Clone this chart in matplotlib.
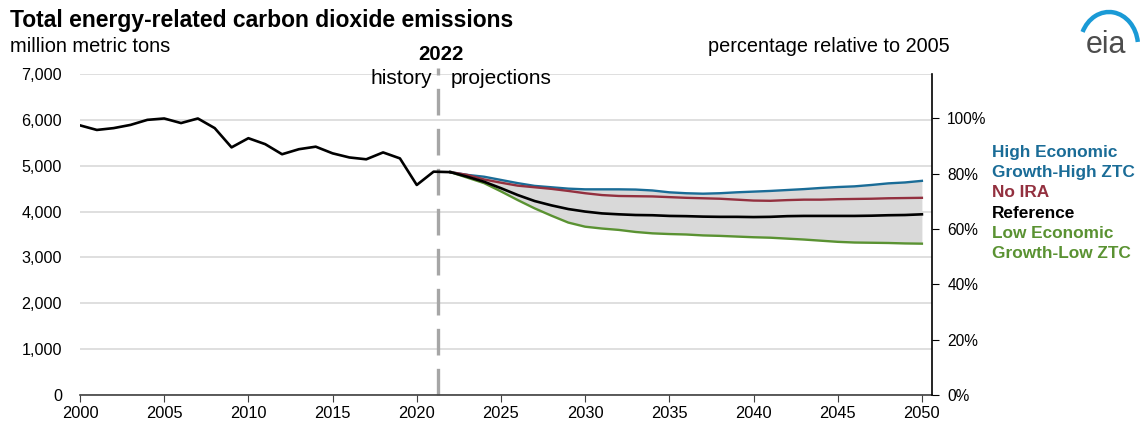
import numpy as np
import matplotlib.pyplot as plt
from matplotlib.patches import Arc

plt.rcParams["font.family"] = ["Liberation Sans", "DejaVu Sans"]

# history, million metric tons
hist_years = list(range(2000, 2023))
hist_values = [5880, 5780, 5820, 5890, 6000, 6030, 5930, 6030, 5820, 5400,
               5600, 5470, 5250, 5360, 5415, 5270, 5180, 5140, 5290, 5160,
               4580, 4870, 4860]

# projections 2022-2050
proj_years = list(range(2022, 2051))
high_growth = [4860, 4800, 4760, 4690, 4620, 4560, 4530, 4500, 4485, 4485,
               4485, 4480, 4460, 4420, 4400, 4390, 4400, 4420, 4435, 4450,
               4470, 4490, 4515, 4535, 4550, 4580, 4615, 4635, 4670]
no_ira = [4860, 4800, 4700, 4630, 4565, 4530, 4495, 4450, 4400, 4360,
          4340, 4335, 4330, 4315, 4300, 4290, 4280, 4260, 4240, 4235,
          4250, 4260, 4260, 4270, 4275, 4280, 4290, 4295, 4300]
reference = [4860, 4760, 4650, 4510, 4360, 4230, 4135, 4055, 4000, 3960,
             3940, 3925, 3920, 3905, 3900, 3890, 3885, 3885, 3880, 3885,
             3900, 3905, 3905, 3905, 3905, 3910, 3920, 3925, 3940]
low_growth = [4860, 4740, 4620, 4440, 4250, 4070, 3910, 3760, 3670, 3630,
              3600, 3555, 3525, 3510, 3500, 3480, 3470, 3455, 3440, 3430,
              3410, 3390, 3365, 3340, 3325, 3320, 3315, 3305, 3300]

x_ticks = list(range(2000, 2051, 5))
y_ticks = list(range(0, 7001, 1000))
pct_ticks = [0, 20, 40, 60, 80, 100]
divider_year = 2021.25

BLUE = "#1a6c97"
RED = "#93303f"
GREEN = "#5a9232"
BLACK = "#000000"

fig = plt.figure(figsize=(11.4, 4.25), dpi=100)
ax = fig.add_axes([80 / 1140, 30 / 425, 852 / 1140, 321 / 425])

ax.fill_between(proj_years, low_growth, high_growth, color="#d9d9d9", lw=0, zorder=1)
ax.plot(proj_years, high_growth, color=BLUE, lw=1.7, zorder=3)
ax.plot(proj_years, no_ira, color=RED, lw=1.7, zorder=3)
ax.plot(proj_years, low_growth, color=GREEN, lw=1.7, zorder=3)
ax.plot(proj_years, reference, color=BLACK, lw=1.9, zorder=4)
ax.plot(hist_years, hist_values, color=BLACK, lw=1.9, zorder=4)

ax.axvline(divider_year, color="#a6a6a6", lw=2.4, ls=(0, (8, 4)), zorder=2,
           ymin=0, ymax=1.02, clip_on=False)

ax.set_xlim(2000, 2050.6)
ax.set_ylim(0, 7000)
ax.set_xticks(x_ticks)
ax.set_yticks(y_ticks)
ax.set_yticklabels([f"{v:,}" for v in y_ticks])
ax.grid(axis="y", color="#d9d9d9", lw=1.2, zorder=0)
ax.set_axisbelow(True)
for s in ["top", "left", "right"]:
    ax.spines[s].set_visible(False)
ax.spines["bottom"].set_color("#404040")
ax.spines["bottom"].set_linewidth(1.2)
ax.tick_params(axis="x", direction="out", length=5, color="#404040",
               labelsize=11.8, pad=3)
ax.tick_params(axis="y", length=0, labelsize=11.6, pad=13)

# right axis: percentage relative to 2005
base_2005 = hist_values[hist_years.index(2005)]
ax2 = ax.twinx()
ax2.set_ylim(0, 7000 / base_2005 * 100)
ax2.set_yticks(pct_ticks)
ax2.set_yticklabels([f"{p}%" for p in pct_ticks])
for s in ["top", "left", "bottom"]:
    ax2.spines[s].set_visible(False)
ax2.spines["right"].set_color("black")
ax2.spines["right"].set_linewidth(1.2)
ax2.tick_params(axis="y", direction="out", length=5, labelsize=11.2, pad=6)

# text annotations
fig.text(10 / 1140, 1 - 21 / 425, "Total energy-related carbon dioxide emissions",
         fontsize=16.5, fontweight="bold", va="center")
fig.text(10 / 1140, 1 - 47 / 425, "million metric tons", fontsize=14.4, va="center")
fig.text(950 / 1140, 1 - 47 / 425, "percentage relative to 2005", fontsize=14.3,
         va="center", ha="right")
fig.text(441 / 1140, 1 - 54 / 425, "2022", fontsize=14.7, fontweight="bold",
         va="center", ha="center")
fig.text(432 / 1140, 1 - 78 / 425, "history", fontsize=15, va="center", ha="right")
fig.text(451 / 1140, 1 - 78 / 425, "projections", fontsize=15, va="center", ha="left")

legend_items = [("High Economic", BLUE), ("Growth-High ZTC", BLUE), ("No IRA", RED),
                ("Reference", BLACK), ("Low Economic", GREEN), ("Growth-Low ZTC", GREEN)]
for i, (label, col) in enumerate(legend_items):
    fig.text(992 / 1140, 1 - (152 + i * 20.4) / 425, label, fontsize=12.4,
             fontweight="bold", color=col, va="center")

# eia logo, drawn in figure pixel units
logo_ax = fig.add_axes([1060 / 1140, 365 / 425, 80 / 1140, 60 / 425])
logo_ax.set_xlim(1060, 1140)
logo_ax.set_ylim(365, 425)
logo_ax.axis("off")
logo_ax.add_patch(Arc((1109, 379), 58, 68, theta1=8, theta2=152,
                      color="#1a9ad6", lw=3.2))
logo_ax.text(1106, 380, "eia", fontsize=22, color="#4d4d4d",
             ha="center", va="center")

fig.savefig("out.png", dpi=100)
